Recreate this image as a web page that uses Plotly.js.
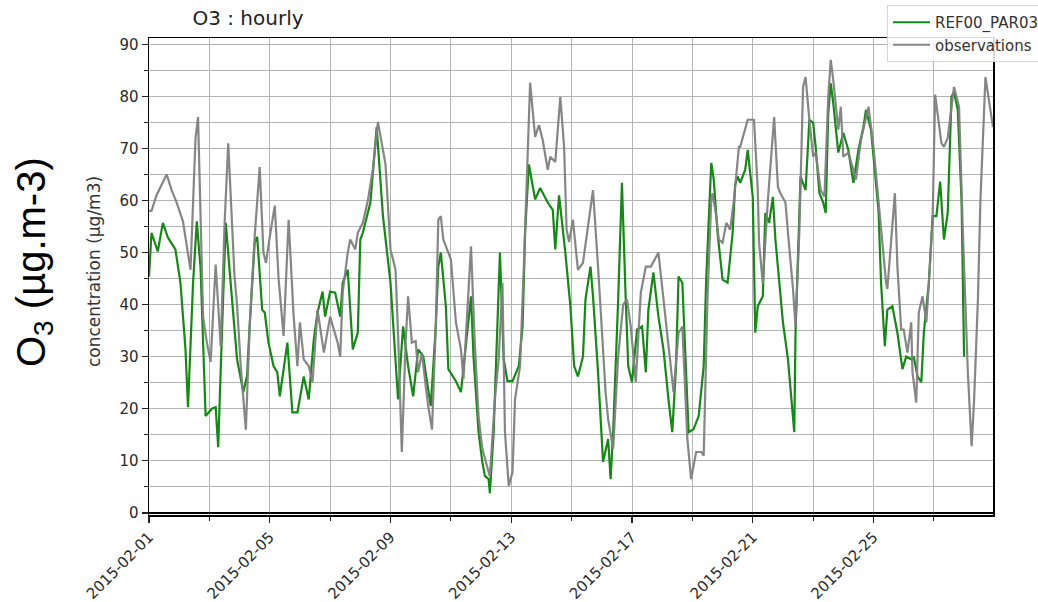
<!DOCTYPE html>
<html>
<head>
<meta charset="utf-8">
<script src="https://cdn.plot.ly/plotly-3.0.1.min.js"></script>
<style>html,body{margin:0;padding:0;background:#fff;}#chart{width:1038px;height:602px;}</style>
</head>
<body>
<div id="chart"></div>
<script>
// Hours since 2015-02-01 00:00 and O3 values (µg/m3)
const modelHours = [0,2,7,11,15,21,25,29,31,35,38,41,45,50,53,55,58,61,66,70,75,78,80,84,86,90,92,95,99,102,104,110,114,118,123,127,131,134,138,140,144,148,152,154,158,162,166,168,170,176,181,186,192,196,198,202,206,210,214,218,224,228,230,232,236,238,244,248,252,256,258,262,265,267,270,271,274,277,279,282,285,289,294,297,299,302,307,311,317,321,323,326,331,335,338,341,345,347,351,353,357,361,365,367,369,373,376,379,381,384,388,392,395,397,401,405,409,413,416,419,421,424,427,429,433,437,441,443,447,449,452,456,460,464,466,468,470,474,476,480,482,484,488,490,493,496,498,504,508,513,514,517,518,522,525,528,530,533,536,538,540,542,544,548,552,556,560,564,568,570,574,576,580,582,585,587,591,595,599,602,606,608,611,614,616,620,623,626,629,632,635,638,640,643,646,648];
const modelValues = [45.4,53.8,50.2,55.7,52.9,50.6,44.2,31.4,20.3,44,56,47,18.6,20,20.3,12.6,34.6,55.7,41,29.5,23.2,26.4,35.8,51.9,53,39,38.5,32.7,28.2,27,22.4,32.7,19.3,19.3,26.2,21.8,33.3,38.5,42.5,37.7,42.5,42.3,37.7,44.2,46.7,31.4,34.6,52.5,53.8,59.6,74.1,57,44.2,29.5,21.8,35.8,28.2,22.4,31.4,30.1,20.5,35.8,47.3,50,39.7,27.6,25.3,23.2,32,41.6,30,15.5,9.8,7.1,6.5,3.8,15.5,34.6,50,29.5,25.3,25.3,28.2,35.8,53.8,66.9,60.2,62.4,59.6,58.2,50.6,61,50,39.7,28.2,26.2,30,41,47.3,41.6,27,9.8,14.2,6.5,15.5,41,63.4,41,28.2,25.1,35.2,35.8,27,39,46.2,37.7,31.4,21.8,15.5,28.2,45.4,44.2,28.2,15.5,16.1,18.6,28.2,45,67.2,64,53.8,44.8,44.2,53.8,63,64.6,63.4,65.9,69.7,60.7,34.6,39.7,41.6,57.6,55.7,60.7,52.5,36.6,29.5,15.5,34.6,60,64.6,62,75.5,74.9,70.3,61.4,59.6,57.6,76.8,82.5,78.7,69.2,73,69.7,63.4,69.7,74.1,77.4,73.6,68.4,58,44.2,32,39,39.7,34.6,27.6,30,29.5,30,26.2,25.1,34.6,44.2,57,57,63.6,52.5,57.6,79.9,80.8,77.4,60,30];

const obsHours = [0,2,6,10,14,18,22,27,33,37,39,43,46,49,51,53,57,60,63,66,68,70,73,77,80,84,88,91,93,96,100,103,107,111,115,118,120,123,127,130,134,139,144,150,152,154,158,160,164,166,170,174,178,182,188,192,196,198,201,204,206,209,212,214,217,220,222,225,228,230,232,234,240,244,248,250,254,256,259,262,265,269,271,275,278,281,283,286,289,291,295,298,301,303,307,310,313,317,319,323,327,330,332,334,337,341,345,349,353,357,361,363,365,369,373,377,380,383,387,391,395,399,405,408,412,417,421,424,428,431,435,439,441,444,447,448,451,453,456,459,462,465,469,470,476,481,484,485,488,492,497,500,502,506,508,512,514,517,520,522,525,528,530,534,537,540,542,544,548,550,552,556,560,562,566,570,572,576,580,582,586,587,590,593,595,598,600,603,606,607,610,612,615,618,620,623,625,630,632,635,640,644,647,651,654,656,659,661,665,668,671];
const obsValues = [58,58,61,63,65,62,59.6,56,46.7,72,76,37.7,32.7,29,40,47.7,32,55,71,55,45.4,40,28,16,35.8,53,66.4,50,48,53,59,45,34,56.3,37.7,28.2,36.6,29.5,28.2,25.1,39,30.8,37.7,32.7,30,42.3,50,52.5,50.6,53.8,55.7,60,66,75.1,67,50.6,46.7,34.6,11.7,32.7,41.6,32.7,33,27,30.8,24.3,20.5,16,35.8,56.3,57,52.5,48.7,36.6,31.4,25.7,42.3,51.2,32.7,18.6,12.3,9,7,21.8,29.5,44.2,15.5,5.2,7.8,21.8,28.2,47.3,70.3,82.6,72.2,74.5,71.6,65.9,68.4,67.4,79.9,70.3,54.4,52,56.3,46.7,48,55,62,47.3,30.8,23.2,18,12.3,30,40,41,35.8,25.1,42.3,47.3,47.3,50,43.5,34.6,23.2,34.6,35.8,14.2,6.5,11.7,11.7,11,41,60,61.4,57,52.5,51.9,55.7,54.4,60,70.3,70.3,75.5,75.5,62,52,44,60,76,62.6,61.4,59.6,53.8,43,35.8,53.8,81.8,83.7,75.5,68.4,69.2,62,60.7,79.9,87,83.1,73.6,78,68.4,69.2,65.9,64,71.6,75.5,78,70.3,59.6,53.8,44.2,43,51.9,61.4,47.3,35.2,35.2,30.8,36.6,27,21.2,38.5,41.6,36.6,44.2,56.3,80.3,71,70.3,72,81.8,78,54.4,27,12.8,21.8,41,60,83.7,78.7,74.1];

const seriesNames = ['REF00_PAR03', 'observations'];
const yTickVals = [0,10,20,30,40,50,60,70,80,90];

const base = Date.UTC(2015, 1, 1);
function pad(n){ return (n < 10 ? '0' : '') + n; }
function toDate(h){
  const d = new Date(base + h * 3600000);
  return d.getUTCFullYear() + '-' + pad(d.getUTCMonth()+1) + '-' + pad(d.getUTCDate()) + ' ' + pad(d.getUTCHours()) + ':' + pad(d.getUTCMinutes());
}
const DAY = 86400000;
const gridCol = '#b4b4b4';
const tickFont = {family: 'DejaVu Sans', size: 15, color: '#2a2a2a'};

const L = 149, R = 993, T = 38, B = 515;
const PW = R - L, PH = B - T;

const traces = [
  {x: modelHours.map(toDate), y: modelValues, type: 'scatter', mode: 'lines', name: seriesNames[0],
   line: {color: '#138a13', width: 2.2}},
  {x: obsHours.map(toDate), y: obsValues, type: 'scatter', mode: 'lines', name: seriesNames[1],
   line: {color: '#7f7f7f', width: 2.2}, opacity: 0.95}
];

const layout = {
  width: 1038, height: 602,
  paper_bgcolor: '#fff', plot_bgcolor: '#fff',
  margin: {l: L, r: 1038 - R, t: T, b: 602 - B, autoexpand: false},
  showlegend: true,
  title: {text: 'O3 : hourly', font: {family: 'DejaVu Sans', size: 20, color: '#222'},
          xref: 'container', x: 248/1038, xanchor: 'center', yref: 'container', y: 1 - 18/602, yanchor: 'middle'},
  xaxis: {
    type: 'date', automargin: false,
    range: [toDate(0), toDate(671)],
    tick0: '2015-02-01', dtick: 4*DAY, tickformat: '%Y-%m-%d', tickangle: -45,
    ticks: 'outside', ticklen: 6, tickcolor: '#222', tickwidth: 1.2,
    tickfont: tickFont,
    showgrid: true, gridcolor: gridCol, gridwidth: 1,
    minor: {tick0: '2015-02-01', dtick: 2*DAY, showgrid: true, gridcolor: gridCol, gridwidth: 1, ticks: 'outside', ticklen: 4, tickcolor: '#222'},
    showline: true, linecolor: '#000', linewidth: 1.5, mirror: true,
    zeroline: false
  },
  yaxis: {
    range: [-0.4, 91.2], automargin: false,
    tickvals: yTickVals, ticktext: yTickVals.map(String),
    ticks: 'outside', ticklen: 6, tickcolor: '#222', tickwidth: 1.2,
    tickfont: tickFont,
    showgrid: true, gridcolor: gridCol, gridwidth: 1,
    minor: {dtick: 5, showgrid: true, gridcolor: gridCol, gridwidth: 1, ticks: 'outside', ticklen: 4, tickcolor: '#222'},
    showline: true, linecolor: '#000', linewidth: 1.5, mirror: true,
    zeroline: true, zerolinecolor: '#000', zerolinewidth: 2.5
  },
  legend: {
    x: (887 - L)/PW, xanchor: 'left', y: (B - 5)/PH, yanchor: 'top',
    bgcolor: 'rgba(255,255,255,0.85)', bordercolor: '#d6d6d6', borderwidth: 1,
    font: {family: 'DejaVu Sans', size: 15, color: '#333'},
    tracegroupgap: 0, itemwidth: 37
  },
  annotations: [
    {text: 'O<sub>3</sub> (µg.m-3)', textangle: -90, xref: 'paper', yref: 'paper',
     x: (34 - L)/PW, y: (B - 262)/PH, xanchor: 'center', yanchor: 'middle', showarrow: false,
     font: {family: 'Liberation Sans', size: 40, color: '#000'}},
    {text: 'concentration (µg/m3)', textangle: -90, xref: 'paper', yref: 'paper',
     x: (94 - L)/PW, y: (B - 272)/PH, xanchor: 'center', yanchor: 'middle', showarrow: false,
     font: {family: 'DejaVu Sans', size: 17, color: '#333'}}
  ]
};

Plotly.newPlot('chart', traces, layout, {displayModeBar: false, staticPlot: true});
</script>
</body>
</html>
